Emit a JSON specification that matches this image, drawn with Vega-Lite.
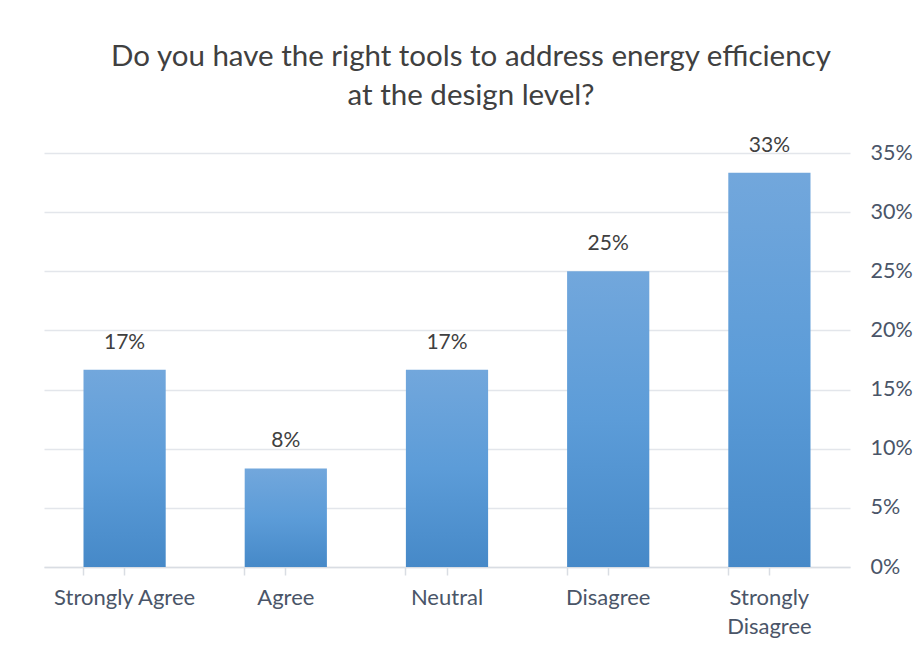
{
  "$schema": "https://vega.github.io/schema/vega-lite/v6.json",
  "width": 806,
  "height": 414,
  "autosize": "none",
  "padding": {"left": 44, "top": 153, "right": 69, "bottom": 86},
  "background": "white",
  "config": {
    "view": {"stroke": null},
    "font": "Lato"
  },
  "title": {
    "text": ["Do you have the right tools to address energy efficiency", "at the design level?"],
    "font": "Lato",
    "fontSize": 29.5,
    "fontWeight": "normal",
    "color": "#404040",
    "lineHeight": 39,
    "anchor": "middle",
    "dx": 24,
    "offset": 23
  },
  "data": {
    "values": [
      {"response": "Strongly Agree", "share": 0.1667},
      {"response": "Agree", "share": 0.0833},
      {"response": "Neutral", "share": 0.1667},
      {"response": "Disagree", "share": 0.25},
      {"response": "Strongly Disagree", "share": 0.3333}
    ]
  },
  "encoding": {
    "x": {
      "field": "response",
      "type": "nominal",
      "sort": null,
      "scale": {"paddingInner": 0.49, "paddingOuter": 0.245}
    },
    "y": {
      "field": "share",
      "type": "quantitative",
      "scale": {"domain": [0, 0.35]},
      "axis": {
        "orient": "right",
        "title": null,
        "format": ".0%",
        "values": [0, 0.05, 0.1, 0.15, 0.2, 0.25, 0.3, 0.35],
        "labelFont": "Lato",
        "labelFontSize": 21.5,
        "labelColor": "#4a5568",
        "labelPadding": 20,
        "domain": false,
        "ticks": false,
        "grid": true,
        "gridColor": "#e3e6eb",
        "gridWidth": 1.5
      }
    }
  },
  "resolve": {"axis": {"x": "independent"}},
  "layer": [
    {
      "mark": {
        "type": "bar",
        "color": {
          "gradient": "linear",
          "x1": 0, "y1": 0, "x2": 0, "y2": 1,
          "stops": [
            {"offset": 0, "color": "#72a7dc"},
            {"offset": 0.5, "color": "#5c9cd8"},
            {"offset": 1, "color": "#4689c8"}
          ]
        }
      },
      "encoding": {
        "x": {
          "field": "response",
          "type": "nominal",
          "sort": null,
          "scale": {"paddingInner": 0.49, "paddingOuter": 0.245},
          "axis": {
            "orient": "bottom",
            "title": null,
            "labelAngle": 0,
            "labelFont": "Lato",
            "labelFontSize": 22,
            "labelColor": "#4a5568",
            "labelPadding": 12,
            "labelLineHeight": 29,
            "labelExpr": "datum.label == 'Strongly Disagree' ? ['Strongly', 'Disagree'] : datum.label",
            "domainColor": "#d9dde3",
            "domainWidth": 1.5,
            "tickColor": "#d9dde3",
            "tickWidth": 1.5,
            "tickSize": 8,
            "ticks": true,
            "bandPosition": 0.5
          }
        }
      }
    },
    {
      "mark": {
        "type": "text",
        "baseline": "bottom",
        "dy": -17,
        "font": "Lato",
        "fontSize": 21,
        "color": "#404040"
      },
      "encoding": {
        "x": {
          "field": "response",
          "type": "nominal",
          "sort": null,
          "axis": {
            "orient": "bottom",
            "title": null,
            "labels": false,
            "domain": false,
            "tickColor": "#d9dde3",
            "tickWidth": 1.5,
            "tickSize": 8,
            "ticks": true,
            "bandPosition": 0
          }
        },
        "text": {"field": "share", "type": "quantitative", "format": ".0%"}
      }
    }
  ]
}
